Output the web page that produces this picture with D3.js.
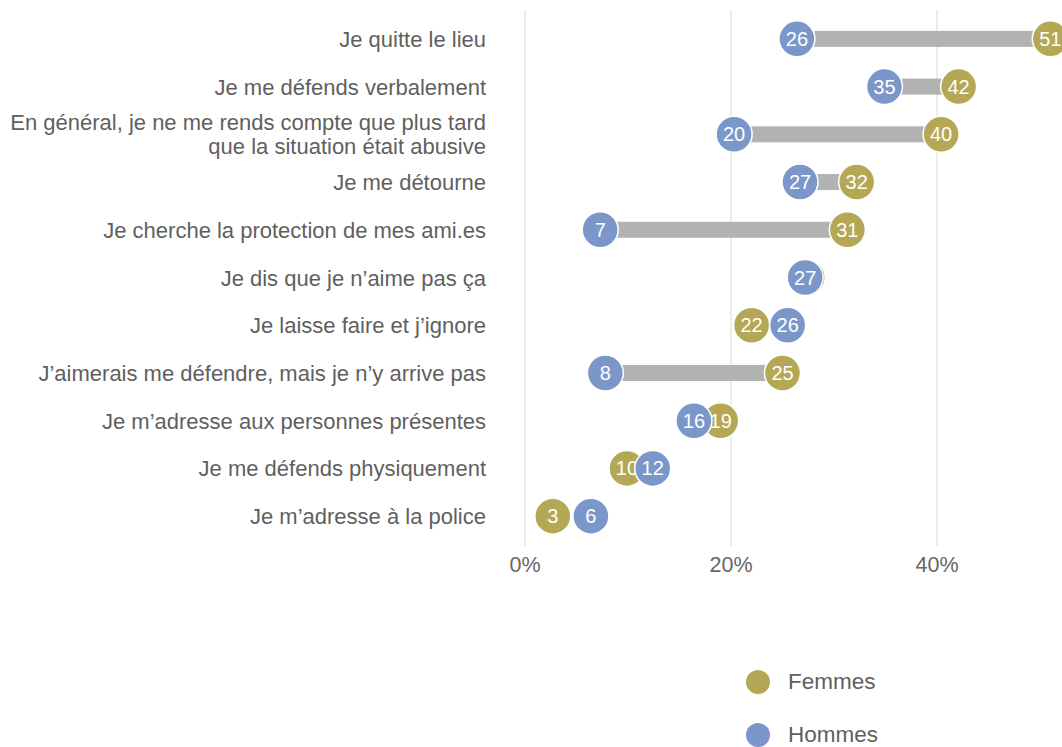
<!DOCTYPE html>
<html>
<head>
<meta charset="utf-8">
<script src="https://cdn.jsdelivr.net/npm/d3@7"></script>
<style>
  body { margin: 0; background: #fff; }
  svg { display: block; font-family: "Liberation Sans", Arial, sans-serif; }
</style>
</head>
<body>
<script>
// categories (top to bottom)
const categories = [
  "Je quitte le lieu",
  "Je me défends verbalement ",
  "En général, je ne me rends compte que plus tard|que la situation était abusive",
  "Je me détourne",
  "Je cherche la protection de mes ami.es",
  "Je dis que je n’aime pas ça",
  "Je laisse faire et j’ignore ",
  "J’aimerais me défendre, mais je n’y arrive pas",
  "Je m’adresse aux personnes présentes",
  "Je me défends physiquement",
  "Je m’adresse à la police"
]
const femmes = [51.0, 42.1, 40.4, 32.2, 31.3, 27.4, 22.0, 25.0, 19.0, 9.9, 2.7]
const hommes = [26.4, 34.9, 20.3, 26.7, 7.3, 27.2, 25.5, 7.8, 16.4, 12.4, 6.4]
const ticks = [0, 20, 40]
const legendItems = ["Femmes", "Hommes"]

const colF = "#b5a855"
const colH = "#7b97ca"
const W = 1062, H = 747

const svg = d3.select("body").append("svg")
  .attr("width", W)
  .attr("height", H)

const x = d3.scaleLinear().domain([0, 40]).range([525, 937])
const y = d3.scaleBand().domain(d3.range(categories.length)).range([15, 540])
const yc = i => y(i) + y.bandwidth() / 2
const r = 18

// gridlines
svg.append("g").selectAll("line")
  .data(ticks)
  .join("line")
    .attr("x1", d => x(d)).attr("x2", d => x(d))
    .attr("y1", 10).attr("y2", 546)
    .attr("stroke", "#d9d9d9")
    .attr("stroke-width", 1)

// tick labels
svg.append("g").selectAll("text")
  .data(ticks)
  .join("text")
    .attr("x", d => x(d))
    .attr("y", 572)
    .attr("text-anchor", "middle")
    .attr("font-size", 21.5)
    .attr("fill", "#666")
    .text(d => d + "%")

// category labels
const lab = svg.append("g").selectAll("text")
  .data(categories)
  .join("text")
    .attr("text-anchor", "end")
    .attr("font-size", 22)
    .attr("fill", "#5f5f5f")
lab.each(function(d, i) {
  const lines = d.split("|")
  const t = d3.select(this)
  lines.forEach((s, k) => {
    t.append("tspan")
      .attr("x", 486)
      .attr("y", yc(i) + 8 + (k - (lines.length - 1) / 2) * 24)
      .text(s)
  })
})

// bars (only where femmes > hommes)
svg.append("g").selectAll("rect")
  .data(d3.range(categories.length).filter(i => femmes[i] > hommes[i]))
  .join("rect")
    .attr("x", i => x(hommes[i]))
    .attr("y", i => yc(i) - 8)
    .attr("width", i => x(femmes[i]) - x(hommes[i]))
    .attr("height", 16)
    .attr("fill", "#b2b2b2")

function dots(vals, col) {
  const g = svg.append("g")
  g.selectAll("circle")
    .data(vals)
    .join("circle")
      .attr("cx", d => x(d))
      .attr("cy", (d, i) => yc(i))
      .attr("r", r)
      .attr("fill", col)
      .attr("stroke", "#fff")
      .attr("stroke-width", 1.5)
  g.selectAll("text")
    .data(vals)
    .join("text")
      .attr("x", d => x(d))
      .attr("y", (d, i) => yc(i) + 7)
      .attr("text-anchor", "middle")
      .attr("font-size", 20)
      .attr("fill", "#fff")
      .text(d => Math.round(d))
}
dots(femmes, colF)
dots(hommes, colH)

// legend
const leg = svg.append("g").selectAll("g")
  .data(legendItems)
  .join("g")
    .attr("transform", (d, i) => "translate(758," + (682 + i * 53) + ")")
leg.append("circle")
  .attr("r", 12)
  .attr("fill", (d, i) => i == 0 ? colF : colH)
leg.append("text")
  .attr("x", 30)
  .attr("y", 7)
  .attr("font-size", 22.5)
  .attr("fill", "#5f5f5f")
  .text(d => d)
</script>
</body>
</html>
